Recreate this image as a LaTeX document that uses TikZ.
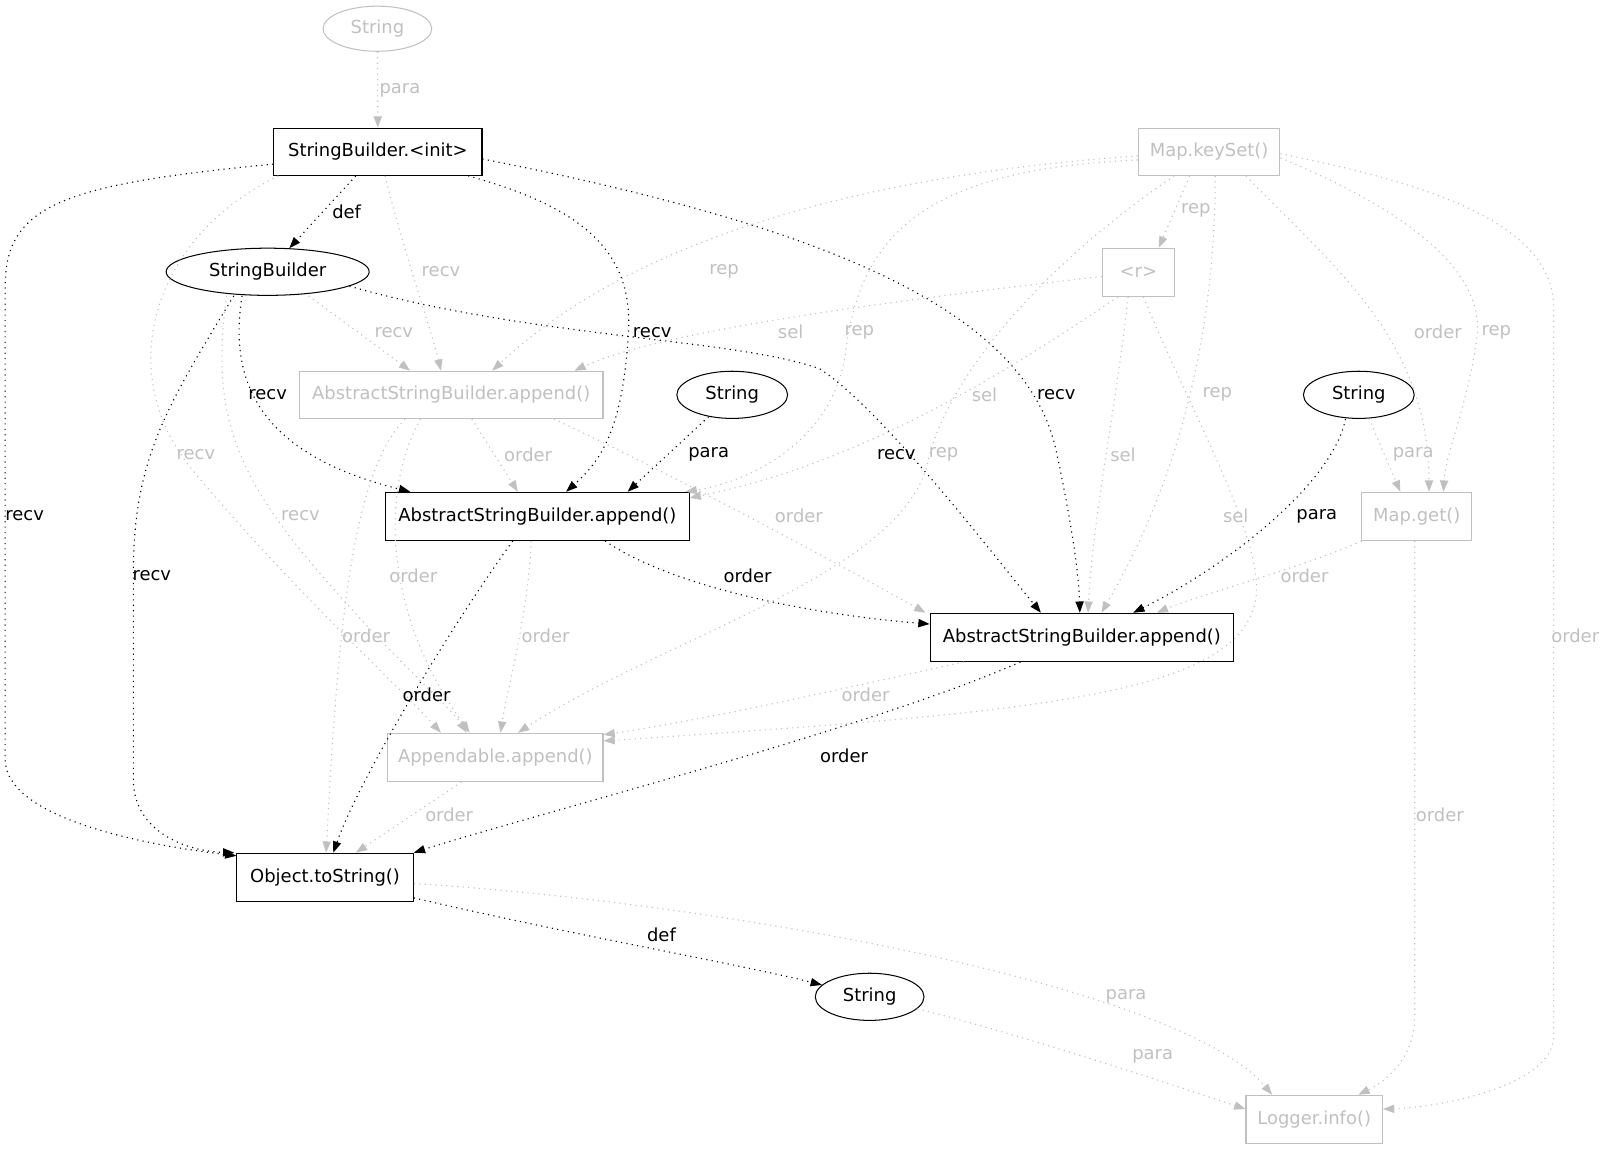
\documentclass[tikz,border=0pt]{standalone}
\usepackage{fontspec}
\setmainfont{DejaVu Sans}
\usetikzlibrary{shapes.geometric,arrows.meta}
\definecolor{lgray}{RGB}{192,192,192}

\begin{document}
\begin{tikzpicture}[x=1pt, y=-1pt,
  every node/.style={font=\fontsize{17.5}{20}\selectfont},
  fn/.style={rectangle, draw=black, line width=1pt, inner sep=0pt},
  val/.style={ellipse, draw=black, line width=1pt, inner sep=0pt},
  ghost/.style={draw=lgray, text=lgray},
  dep/.style={line width=1.1pt, dash pattern=on 1.1pt off 4.2pt, -{Triangle[length=11pt,width=8pt]}},
  gdep/.style={dep, color=lgray}]

\useasboundingbox (0, 0) rectangle (1568, 1120);

\node (strTop) at (368, 28) [val, ghost, minimum width=106pt, minimum height=44pt] {String};
\node (sbInit) at (368.5, 148) [fn, minimum width=203pt, minimum height=46pt] {StringBuilder.<init>};
\node (keySet) at (1179, 148) [fn, ghost, minimum width=138pt, minimum height=46pt] {Map.keySet()};
\node (sb) at (261, 265) [val, minimum width=198pt, minimum height=46pt] {StringBuilder};
\node (rr) at (1110, 265.5) [fn, ghost, minimum width=70pt, minimum height=47pt] {<r>};
\node (asbG) at (440, 385) [fn, ghost, minimum width=296pt, minimum height=46pt] {AbstractStringBuilder.append()};
\node (strMid) at (714, 385) [val, minimum width=108pt, minimum height=46pt] {String};
\node (strRight) at (1325, 385) [val, minimum width=108pt, minimum height=46pt] {String};
\node (asb1) at (524, 503.5) [fn, minimum width=296pt, minimum height=47pt] {AbstractStringBuilder.append()};
\node (mapGet) at (1381.5, 503.5) [fn, ghost, minimum width=107pt, minimum height=47pt] {Map.get()};
\node (asb2) at (1055, 621.5) [fn, minimum width=296pt, minimum height=47pt] {AbstractStringBuilder.append()};
\node (appendable) at (483, 738.5) [fn, ghost, minimum width=210pt, minimum height=47pt] {Appendable.append()};
\node (toStr) at (317, 855.5) [fn, minimum width=172pt, minimum height=47pt] {Object.toString()};
\node (strBot) at (848, 972) [val, minimum width=106pt, minimum height=46pt] {String};
\node (logger) at (1281.5, 1091.5) [fn, ghost, minimum width=133pt, minimum height=47pt] {Logger.info()};

% black dependencies
\draw[dep] (sbInit) -- (sb) node at (338, 207) {def};
\draw[dep] ([yshift=-12pt]sbInit.west) .. controls (60, 180) and (5, 200) .. (5, 280) -- (5, 740) .. controls (5, 800) and (150, 825) .. ([yshift=-3pt]toStr.north west) node at (24, 503) {recv};
\draw[dep] ([xshift=88pt]sbInit.south) .. controls (560, 200) and (616, 240) .. (613, 320) .. controls (608, 420) and (585, 450) .. ([xshift=28pt]asb1.north) node at (636, 324) {recv};
\draw[dep] ([yshift=-7pt]sbInit.east) .. controls (800, 220) and (1000, 300) .. (1030, 440) .. controls (1045, 510) and (1052, 560) .. ([xshift=-2pt]asb2.north) node at (1030, 385) {recv};
\draw[dep] ([xshift=-25pt]sb.south) .. controls (225, 360) and (240, 440) .. ([xshift=-124pt]asb1.north) node at (261, 385) {recv};
\draw[dep] ([xshift=-33pt]sb.south) .. controls (160, 400) and (130, 450) .. (130, 560) -- (130, 760) .. controls (130, 810) and (180, 830) .. ([xshift=-2pt]toStr.north west) node at (148, 561) {recv};
\draw[dep] (sb.350) .. controls (520, 330) and (720, 330) .. (800, 360) .. controls (860, 400) and (960, 530) .. ([xshift=-40pt]asb2.north) node at (874, 443) {recv};
\draw[dep] (strMid) -- ([xshift=88pt]asb1.north) node at (691, 443) {para};
\draw[dep] ([xshift=-13pt]strRight.south) .. controls (1300, 470) and (1200, 550) .. ([xshift=50pt]asb2.north) node at (1284, 503) {para};
\draw[dep] ([xshift=66pt]asb1.south) .. controls (660, 575) and (800, 600) .. ([yshift=13pt]asb2.west) node at (729, 561) {order};
\draw[dep] ([xshift=-24pt]asb1.south) .. controls (440, 610) and (350, 760) .. ([xshift=8pt]toStr.north) node at (416, 678) {order};
\draw[dep] ([xshift=-60pt]asb2.south) .. controls (850, 710) and (500, 800) .. (toStr.north east) node at (823, 737) {order};
\draw[dep] ([yshift=-20pt]toStr.east) .. controls (550, 910) and (720, 940) .. (strBot) node at (645, 912) {def};

% grey dependencies
\draw[gdep] (strTop) -- (sbInit) node at (390, 88) {para};
\draw[gdep] ([xshift=7pt]sbInit.south) .. controls (395, 250) and (420, 320) .. ([xshift=-10pt]asbG.north) node at (430, 265) {recv};
\draw[gdep] ([xshift=-97pt]sbInit.south) .. controls (150, 230) and (110, 360) .. (185, 455) .. controls (280, 570) and (380, 660) .. ([xshift=-53pt]appendable.north) node at (191, 443) {recv};
\draw[gdep] ([xshift=40pt]sb.south) -- ([xshift=-40pt]asbG.north) node at (384, 324) {recv};
\draw[gdep] ([xshift=-40pt]sb.south) .. controls (205, 400) and (230, 460) .. (300, 545) .. controls (380, 640) and (440, 690) .. ([xshift=-28pt]appendable.north) node at (293, 503) {recv};
\draw[gdep] ([yshift=-4pt]keySet.west) .. controls (850, 170) and (620, 230) .. ([xshift=40pt]asbG.north) node at (706, 265) {rep};
\draw[gdep] ([xshift=-19pt]keySet.south) -- ([xshift=20pt]rr.north) node at (1166, 205) {rep};
\draw[gdep] ([yshift=-8pt]keySet.west) .. controls (900, 165) and (840, 230) .. (825, 340) .. controls (815, 430) and (730, 470) .. ([xshift=-4pt]asb1.north east) node at (838, 324) {rep};
\draw[gdep] ([xshift=6pt]keySet.south) .. controls (1185, 300) and (1160, 450) .. ([xshift=19pt]asb2.north) node at (1187, 385) {rep};
\draw[gdep] ([xshift=-34pt]keySet.south) .. controls (1000, 270) and (920, 380) .. (905, 450) .. controls (880, 560) and (650, 620) .. ([xshift=22pt]appendable.north) node at (920, 443) {rep};
\draw[gdep] ([xshift=36pt]keySet.south) .. controls (1300, 260) and (1393, 330) .. ([xshift=12pt]mapGet.north) node at (1402, 324) {order};
\draw[gdep] ([yshift=-6pt]keySet.east) .. controls (1360, 200) and (1450, 260) .. (1440, 330) .. controls (1430, 400) and (1410, 440) .. ([xshift=26pt]mapGet.north) node at (1459, 324) {rep};
\draw[gdep] ([yshift=-2pt]keySet.east) .. controls (1400, 180) and (1515, 220) .. (1515, 300) -- (1515, 1010) .. controls (1515, 1060) and (1400, 1080) .. ([yshift=10pt]logger.east) node at (1536, 620) {order};
\draw[gdep] ([yshift=-4pt]rr.west) .. controls (900, 290) and (650, 320) .. ([xshift=120pt]asbG.north) node at (771, 324) {sel};
\draw[gdep] ([xshift=-20pt]rr.south) .. controls (1000, 350) and (850, 450) .. ([yshift=-6pt]asb1.north east) node at (960, 385) {sel};
\draw[gdep] ([xshift=-10pt]rr.south) .. controls (1088, 400) and (1066, 500) .. ([xshift=6pt]asb2.north) node at (1095, 443) {sel};
\draw[gdep] ([xshift=5pt]rr.south) .. controls (1160, 400) and (1230, 520) .. (1225, 580) .. controls (1215, 680) and (1000, 695) .. ([yshift=16pt]appendable.east) node at (1205, 503) {sel};
\draw[gdep] (strRight) -- ([xshift=-16pt]mapGet.north) node at (1378, 443) {para};
\draw[gdep] ([xshift=20pt]asbG.south) -- ([xshift=-19pt]asb1.north) node at (515, 443) {order};
\draw[gdep] ([xshift=100pt]asbG.south) .. controls (650, 460) and (800, 540) .. ([xshift=-4pt]asb2.north west) node at (779, 503) {order};
\draw[gdep] ([xshift=-45pt]asbG.south) .. controls (345, 460) and (330, 600) .. ([xshift=1pt]toStr.north) node at (357, 620) {order};
\draw[gdep] ([xshift=-30pt]asbG.south) .. controls (370, 480) and (375, 600) .. ([xshift=-25pt]appendable.north) node at (403, 561) {order};
\draw[gdep] ([xshift=-6pt]asb1.south) .. controls (515, 600) and (495, 670) .. ([xshift=5pt]appendable.north) node at (532, 620) {order};
\draw[gdep] (mapGet.south west) .. controls (1280, 550) and (1170, 580) .. ([xshift=73pt]asb2.north) node at (1272, 561) {order};
\draw[gdep] ([xshift=-2pt]mapGet.south) -- (1379.5, 990) .. controls (1379.5, 1040) and (1340, 1060) .. ([xshift=43pt]logger.north) node at (1404, 795) {order};
\draw[gdep] ([xshift=-115pt]asb2.south) .. controls (850, 665) and (700, 700) .. ([yshift=22pt]appendable.east) node at (844, 678) {order};
\draw[gdep] ([xshift=-33pt]appendable.south) -- ([xshift=30pt]toStr.north) node at (438, 795) {order};
\draw[gdep] ([yshift=-6pt]toStr.east) .. controls (700, 880) and (1150, 960) .. ([xshift=-41pt]logger.north) node at (1098, 972) {para};
\draw[gdep] (strBot) .. controls (1000, 1010) and (1150, 1060) .. ([yshift=10pt]logger.west) node at (1124, 1030) {para};

\end{tikzpicture}
\end{document}
